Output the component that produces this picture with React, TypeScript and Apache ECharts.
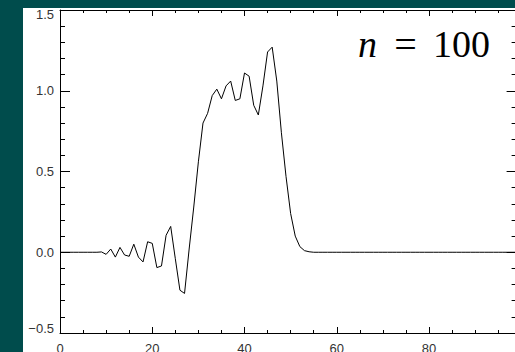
import React, { useEffect, useRef } from "react";
import * as echarts from "echarts";

const xValues: number[] = Array.from({ length: 100 }, (_, i) => i);
const yValues: number[] = [
  0, 0, 0, 0, 0, 0, 0, 0, 0, 0.002,
  -0.013, 0.02, -0.03, 0.03, -0.017, -0.025, 0.05, -0.03, -0.06, 0.065,
  0.055, -0.095, -0.085, 0.105, 0.16, -0.04, -0.235, -0.255, 0.02, 0.28,
  0.56, 0.8, 0.86, 0.97, 1.01, 0.95, 1.03, 1.06, 0.94, 0.95,
  1.11, 1.09, 0.91, 0.85, 1.03, 1.24, 1.27, 1.06, 0.74, 0.47,
  0.24, 0.1, 0.035, 0.01, 0.003, 0, 0, 0, 0, 0,
  0, 0, 0, 0, 0, 0, 0, 0, 0, 0,
  0, 0, 0, 0, 0, 0, 0, 0, 0, 0,
  0, 0, 0, 0, 0, 0, 0, 0, 0, 0,
  0, 0, 0, 0, 0, 0, 0, 0, 0, 0,
];
const xTicks = { min: 0, max: 100, interval: 20, dataMax: 99 };
const yTicks = { min: -0.5, max: 1.5, interval: 0.5 };
const annotation = { variable: "n", op: "=", value: "100" };

const LABEL_FONT = "'Liberation Sans', Arial, sans-serif";
const LABEL_COLOR = "#333";
const BG = "#004c4c";

export default function App() {
  const ref = useRef<HTMLDivElement>(null);
  useEffect(() => {
    document.body.style.margin = "0";
    if (!ref.current) return;
    const chart = echarts.init(ref.current, undefined, { renderer: "svg" });
    const axisLine = { show: true, onZero: false, lineStyle: { color: "#000", width: 1 } };
    const xCommon = {
      type: "value" as const,
      gridIndex: 0,
      min: xTicks.min,
      max: xTicks.max,
      interval: xTicks.interval,
      axisLine,
      axisTick: { show: true, inside: true, length: 6, lineStyle: { color: "#000", width: 1 } },
      minorTick: { show: true, splitNumber: 4, length: 3, lineStyle: { color: "#000", width: 1 } },
      splitLine: { show: false },
      minorSplitLine: { show: false },
    };
    const yCommon = {
      type: "value" as const,
      min: yTicks.min,
      max: yTicks.max,
      interval: yTicks.interval,
      axisLine,
      axisTick: { show: true, inside: true, length: 10, lineStyle: { color: "#000", width: 1 } },
      minorTick: { show: true, splitNumber: 5, length: 5, lineStyle: { color: "#000", width: 1 } },
      splitLine: { show: false },
      minorSplitLine: { show: false },
    };
    const labelStyle = { color: LABEL_COLOR, fontSize: 13, fontFamily: LABEL_FONT };
    chart.setOption({
      animation: false,
      backgroundColor: BG,
      graphic: [
        { type: "rect", z: -100, silent: true, shape: { x: 23, y: 8, width: 492, height: 344 }, style: { fill: "#fff" } },
        {
          type: "text", z: 100, x: 358, y: 44,
          style: { text: annotation.variable, fontFamily: "'Liberation Serif', serif", fontStyle: "italic", fontSize: 38, fill: "#000", align: "left", verticalAlign: "middle" },
        },
        {
          type: "text", z: 100, x: 405.5, y: 44,
          style: { text: annotation.op, fontFamily: "'Liberation Serif', serif", fontSize: 40, fill: "#000", align: "center", verticalAlign: "middle" },
        },
        {
          type: "text", z: 100, x: 433, y: 44,
          style: { text: annotation.value, fontFamily: "'Liberation Serif', serif", fontSize: 38, fill: "#000", align: "left", verticalAlign: "middle" },
        },
      ],
      grid: [
        { left: 60, top: 10, width: 461.25, height: 323, containLabel: false, outerBoundsMode: "none" },
        { left: 60, top: 10, width: 456.6, height: 323, containLabel: false, outerBoundsMode: "none" },
      ],
      xAxis: [
        {
          ...xCommon,
          position: "bottom",
          axisLabel: { show: true, showMaxLabel: false, margin: 9, ...labelStyle, formatter: (v: number) => String(v) },
        },
        { ...xCommon, position: "top", axisLabel: { show: false } },
        { type: "value", gridIndex: 1, min: xTicks.min, max: xTicks.dataMax, show: false },
      ],
      yAxis: [
        {
          ...yCommon,
          gridIndex: 0,
          position: "left",
          axisLabel: {
            show: true,
            margin: 6,
            ...labelStyle,
            formatter: (v: number) => {
              const s = v.toFixed(1).replace("-", "\u2212");
              if (Math.abs(v - yTicks.max) < 1e-9) return "{t|" + s + "}";
              if (Math.abs(v - yTicks.min) < 1e-9) return "{b|" + s + "}";
              return s;
            },
            rich: {
              t: { ...labelStyle, padding: [9, 0, 0, 0] },
              b: { ...labelStyle, padding: [0, 0, 9, 0] },
            },
          },
        },
        { ...yCommon, gridIndex: 1, position: "right", axisLabel: { show: false } },
      ],
      series: [
        {
          type: "line",
          xAxisIndex: 0,
          yAxisIndex: 0,
          data: xValues.map((x, i) => [x, yValues[i]]),
          showSymbol: false,
          symbol: "none",
          lineStyle: { color: "#000", width: 1 },
          clip: true,
        },
      ],
    });
    return () => chart.dispose();
  }, []);
  return <div ref={ref} style={{ width: 515, height: 352 }} />;
}
